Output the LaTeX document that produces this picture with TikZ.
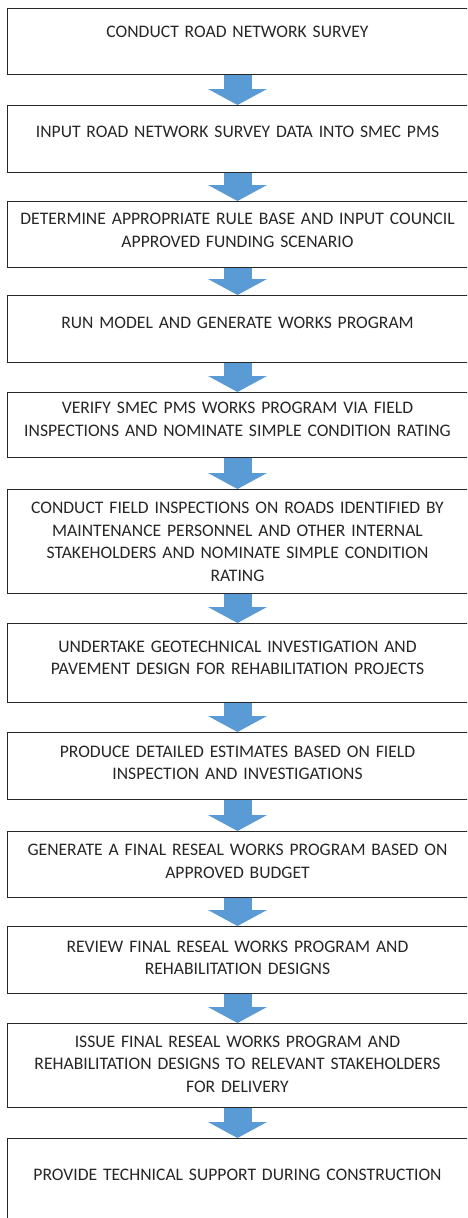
\documentclass[tikz,border=0pt]{standalone}
\usepackage{fontspec}
\setmainfont{Carlito}
\usetikzlibrary{arrows.meta}

\definecolor{arrowblue}{HTML}{5B9BD5}
\definecolor{boxline}{HTML}{262626}

\tikzset{
  stepbox/.style={draw=boxline, line width=1pt, text width=461pt, align=center,
    inner xsep=0pt, inner ysep=0pt, anchor=north, text=boxline,
    font=\fontsize{17.6}{22.5}\selectfont},
  flowarrow/.style={draw=arrowblue, fill=arrowblue, line width=28pt,
    -{Triangle[width=59pt,length=16pt,line width=0pt]}}
}

\begin{document}
\begin{tikzpicture}[x=1pt,y=1pt]
\useasboundingbox (0,0) rectangle (467,-1218);
\clip (0,0) rectangle (467,-1218);

\node[stepbox, text height=28.7pt, text depth=37.3pt] (s1) at (237.5,-8)
  {CONDUCT ROAD NETWORK SURVEY};
\node[stepbox, text height=31.7pt, text depth=35.3pt] (s2) at (237.5,-105)
  {INPUT ROAD NETWORK SURVEY DATA INTO SMEC PMS};
\node[stepbox, text height=23pt, text depth=43pt] (s3) at (237.5,-201)
  {DETERMINE APPROPRIATE RULE BASE AND INPUT COUNCIL\\
   APPROVED FUNDING SCENARIO};
\node[stepbox, text height=33.3pt, text depth=33.7pt] (s4) at (237.5,-295)
  {RUN MODEL AND GENERATE WORKS PROGRAM};
\node[stepbox, text height=21.3pt, text depth=43.7pt] (s5) at (237.5,-392)
  {VERIFY SMEC PMS WORKS PROGRAM VIA FIELD\\
   INSPECTIONS AND NOMINATE SIMPLE CONDITION RATING};
\node[stepbox, text height=24.3pt, text depth=79.7pt] (s6) at (237.5,-489)
  {CONDUCT FIELD INSPECTIONS ON ROADS IDENTIFIED BY\\
   MAINTENANCE PERSONNEL AND OTHER INTERNAL\\
   STAKEHOLDERS AND NOMINATE SIMPLE CONDITION\\
   RATING};
\node[stepbox, text height=28.7pt, text depth=50.3pt] (s7) at (237.5,-623)
  {UNDERTAKE GEOTECHNICAL INVESTIGATION AND\\
   PAVEMENT DESIGN FOR REHABILITATION PROJECTS};
\node[stepbox, text height=24.7pt, text depth=42.3pt] (s8) at (237.5,-732)
  {PRODUCE DETAILED ESTIMATES BASED ON FIELD\\
   INSPECTION AND INVESTIGATIONS};
\node[stepbox, text height=24pt, text depth=42pt] (s9) at (237.5,-831)
  {GENERATE A FINAL RESEAL WORKS PROGRAM BASED ON\\
   APPROVED BUDGET};
\node[stepbox, text height=25.7pt, text depth=41.3pt] (s10) at (237.5,-926)
  {REVIEW FINAL RESEAL WORKS PROGRAM AND\\
   REHABILITATION DESIGNS};
\node[stepbox, text height=23.7pt, text depth=60.3pt] (s11) at (237.5,-1023)
  {ISSUE FINAL RESEAL WORKS PROGRAM AND\\
   REHABILITATION DESIGNS TO RELEVANT STAKEHOLDERS\\
   FOR DELIVERY};
\node[stepbox, text height=42pt, text depth=100pt] (s12) at (237.5,-1138)
  {PROVIDE TECHNICAL SUPPORT DURING CONSTRUCTION};

% block arrows between the steps
\foreach \a/\b in {1/2,2/3,3/4,4/5,5/6,6/7,7/8,8/9,9/10,10/11,11/12}
  \draw[flowarrow] (s\a.south) -- (s\b.north);
\end{tikzpicture}
\end{document}
